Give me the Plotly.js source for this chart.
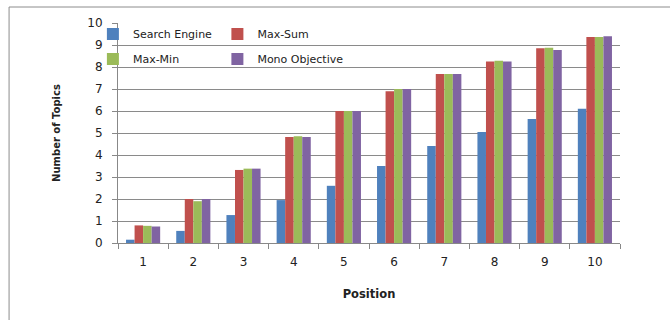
<!DOCTYPE html>
<html><head><meta charset="utf-8">
<script src="https://cdn.plot.ly/plotly-3.0.1.min.js"></script>
<style>html,body{margin:0;padding:0;background:#fff}#c{width:670px;height:320px}</style>
</head><body><div id="c"></div>
<script>
const positions = ['1','2','3','4','5','6','7','8','9','10'];
const searchEngine = [0.15, 0.55, 1.27, 1.95, 2.6, 3.5, 4.41, 5.04, 5.64, 6.1];
const maxSum = [0.8, 2.0, 3.32, 4.82, 6.0, 6.9, 7.68, 8.25, 8.85, 9.36];
const maxMin = [0.78, 1.9, 3.38, 4.85, 6.0, 7.0, 7.68, 8.28, 8.87, 9.36];
const monoObjective = [0.75, 2.0, 3.38, 4.82, 6.0, 7.0, 7.68, 8.25, 8.77, 9.4];
const names = ['Search Engine', 'Max-Sum', 'Max-Min', 'Mono Objective'];
const colors = ['#4F81BD', '#C0504D', '#9BBB59', '#8064A2'];
const series = [searchEngine, maxSum, maxMin, monoObjective];
const legendIds = ['legend', 'legend2', 'legend3', 'legend4'];

const data = series.map((v, i) => ({
  type: 'bar', x: positions, y: v, name: names[i],
  marker: {color: colors[i]}, legend: legendIds[i]
}));

const fam = '"DejaVu Sans", sans-serif';
const font = {family: fam, size: 11, color: '#222'};
function leg(x, y) {
  return {x: x, y: y, xanchor: 'left', yanchor: 'middle', orientation: 'v',
    bgcolor: 'rgba(0,0,0,0)', font: {family: fam, size: 11, color: '#222'},
    itemwidth: 30, borderwidth: 0};
}

const layout = {
  width: 670, height: 320,
  margin: {l: 118, r: 50, t: 23, b: 77},
  paper_bgcolor: '#fff', plot_bgcolor: '#fff',
  font: font,
  barmode: 'group', bargap: 0.32, bargroupgap: 0,
  showlegend: true,
  legend: leg(-0.05, 0.95),
  legend2: leg(0.198, 0.95),
  legend3: leg(-0.05, 0.836),
  legend4: leg(0.198, 0.836),
  xaxis: {
    type: 'category', tickmode: 'array', tickvals: positions, ticktext: positions,
    showline: true, linecolor: '#888', linewidth: 1,
    ticks: 'outside', tickson: 'boundaries', ticklen: 5, tickcolor: '#888',
    ticklabelstandoff: 8,
    tickfont: {family: fam, size: 12, color: '#222'},
    title: {text: '<b>Position</b>', font: {family: fam, size: 11.5, color: '#222'}, standoff: 21},
    showgrid: false
  },
  yaxis: {
    range: [0, 10], dtick: 1, tick0: 0,
    showline: true, linecolor: '#888', linewidth: 1,
    ticks: 'outside', ticklen: 5, tickcolor: '#888',
    ticklabelstandoff: 7,
    showgrid: true, gridcolor: '#8a8a8a', gridwidth: 1,
    zeroline: false,
    tickfont: {family: fam, size: 12, color: '#222'},
    title: {text: '<b>Number of Topics</b>', font: {family: fam, size: 10, color: '#222'}, standoff: 24}
  },
  shapes: [{
    type: 'rect', xref: 'paper', yref: 'paper',
    x0: -0.217, x1: 1.15, y0: -0.5, y1: 1.0727,
    line: {color: '#8c8c8c', width: 1}, layer: 'below'
  }]
};

Plotly.newPlot('c', data, layout, {displayModeBar: false, staticPlot: true});
</script></body></html>
